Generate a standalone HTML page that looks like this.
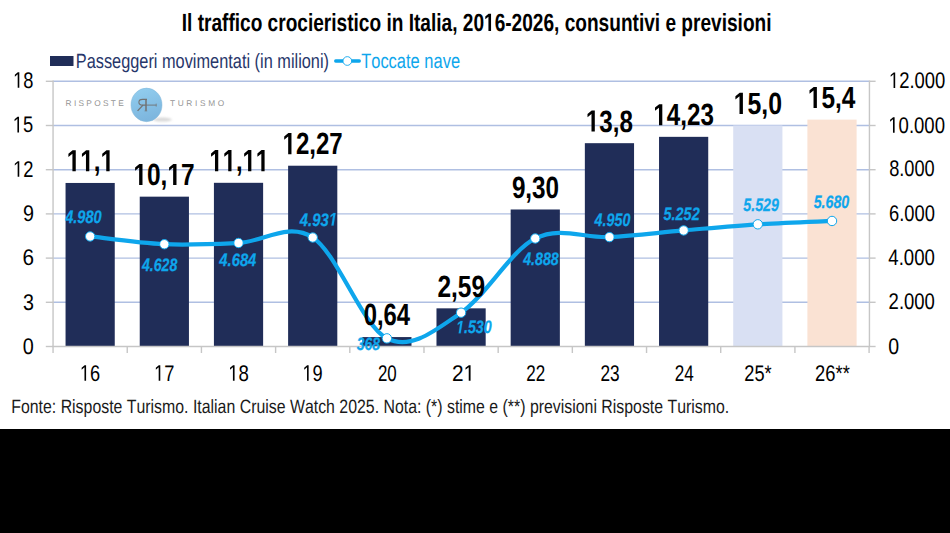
<!DOCTYPE html>
<html><head><meta charset="utf-8"><style>
html,body{margin:0;padding:0;background:#000;}
svg{display:block;font-family:"Liberation Sans",sans-serif;text-rendering:geometricPrecision;}
</style></head><body>
<svg width="950" height="533" viewBox="0 0 950 533">
<rect x="0" y="0" width="950" height="429" fill="#fff"/>
<rect x="0" y="429" width="950" height="104" fill="#000"/>
<line x1="53.06" y1="302.30" x2="869.09" y2="302.30" stroke="#afbfe2" stroke-width="1.4"/>
<line x1="53.06" y1="258.10" x2="869.09" y2="258.10" stroke="#afbfe2" stroke-width="1.4"/>
<line x1="53.06" y1="213.90" x2="869.09" y2="213.90" stroke="#afbfe2" stroke-width="1.4"/>
<line x1="53.06" y1="169.70" x2="869.09" y2="169.70" stroke="#afbfe2" stroke-width="1.4"/>
<line x1="53.06" y1="125.50" x2="869.09" y2="125.50" stroke="#afbfe2" stroke-width="1.4"/>
<line x1="53.06" y1="81.30" x2="869.09" y2="81.30" stroke="#afbfe2" stroke-width="1.4"/>
<line x1="45.8" y1="346.50" x2="53.06" y2="346.50" stroke="#c6c6c6" stroke-width="1.4"/>
<line x1="869.09" y1="346.50" x2="875.6" y2="346.50" stroke="#c6c6c6" stroke-width="1.4"/>
<line x1="45.8" y1="302.30" x2="53.06" y2="302.30" stroke="#c6c6c6" stroke-width="1.4"/>
<line x1="869.09" y1="302.30" x2="875.6" y2="302.30" stroke="#c6c6c6" stroke-width="1.4"/>
<line x1="45.8" y1="258.10" x2="53.06" y2="258.10" stroke="#c6c6c6" stroke-width="1.4"/>
<line x1="869.09" y1="258.10" x2="875.6" y2="258.10" stroke="#c6c6c6" stroke-width="1.4"/>
<line x1="45.8" y1="213.90" x2="53.06" y2="213.90" stroke="#c6c6c6" stroke-width="1.4"/>
<line x1="869.09" y1="213.90" x2="875.6" y2="213.90" stroke="#c6c6c6" stroke-width="1.4"/>
<line x1="45.8" y1="169.70" x2="53.06" y2="169.70" stroke="#c6c6c6" stroke-width="1.4"/>
<line x1="869.09" y1="169.70" x2="875.6" y2="169.70" stroke="#c6c6c6" stroke-width="1.4"/>
<line x1="45.8" y1="125.50" x2="53.06" y2="125.50" stroke="#c6c6c6" stroke-width="1.4"/>
<line x1="869.09" y1="125.50" x2="875.6" y2="125.50" stroke="#c6c6c6" stroke-width="1.4"/>
<line x1="45.8" y1="81.30" x2="53.06" y2="81.30" stroke="#c6c6c6" stroke-width="1.4"/>
<line x1="869.09" y1="81.30" x2="875.6" y2="81.30" stroke="#c6c6c6" stroke-width="1.4"/>
<rect x="65.55" y="182.96" width="49.20" height="163.54" fill="#202d58"/>
<rect x="139.74" y="196.66" width="49.20" height="149.84" fill="#202d58"/>
<rect x="213.92" y="182.81" width="49.20" height="163.69" fill="#202d58"/>
<rect x="288.11" y="165.72" width="49.20" height="180.78" fill="#202d58"/>
<rect x="362.29" y="337.07" width="49.20" height="9.43" fill="#202d58"/>
<rect x="436.48" y="308.34" width="49.20" height="38.16" fill="#202d58"/>
<rect x="510.66" y="209.48" width="49.20" height="137.02" fill="#202d58"/>
<rect x="584.85" y="143.18" width="49.20" height="203.32" fill="#202d58"/>
<rect x="659.03" y="136.84" width="49.20" height="209.66" fill="#202d58"/>
<rect x="733.21" y="125.50" width="49.20" height="221.00" fill="#d9e0f3"/>
<rect x="807.40" y="119.61" width="49.20" height="226.89" fill="#fae2d3"/>
<line x1="53.06" y1="80.60" x2="53.06" y2="346.50" stroke="#c6c6c6" stroke-width="1.4"/>
<line x1="869.44" y1="80.60" x2="869.44" y2="346.50" stroke="#c6c6c6" stroke-width="1.4"/>
<line x1="52.26" y1="346.50" x2="869.89" y2="346.50" stroke="#c6c6c6" stroke-width="1.4"/>
<line x1="53.06" y1="346.50" x2="53.06" y2="353" stroke="#c6c6c6" stroke-width="1.4"/>
<line x1="127.24" y1="346.50" x2="127.24" y2="353" stroke="#c6c6c6" stroke-width="1.4"/>
<line x1="201.43" y1="346.50" x2="201.43" y2="353" stroke="#c6c6c6" stroke-width="1.4"/>
<line x1="275.61" y1="346.50" x2="275.61" y2="353" stroke="#c6c6c6" stroke-width="1.4"/>
<line x1="349.80" y1="346.50" x2="349.80" y2="353" stroke="#c6c6c6" stroke-width="1.4"/>
<line x1="423.98" y1="346.50" x2="423.98" y2="353" stroke="#c6c6c6" stroke-width="1.4"/>
<line x1="498.17" y1="346.50" x2="498.17" y2="353" stroke="#c6c6c6" stroke-width="1.4"/>
<line x1="572.35" y1="346.50" x2="572.35" y2="353" stroke="#c6c6c6" stroke-width="1.4"/>
<line x1="646.54" y1="346.50" x2="646.54" y2="353" stroke="#c6c6c6" stroke-width="1.4"/>
<line x1="720.72" y1="346.50" x2="720.72" y2="353" stroke="#c6c6c6" stroke-width="1.4"/>
<line x1="794.91" y1="346.50" x2="794.91" y2="353" stroke="#c6c6c6" stroke-width="1.4"/>
<line x1="869.09" y1="346.50" x2="869.09" y2="353" stroke="#c6c6c6" stroke-width="1.4"/>
<path d="M90.15 236.44 C102.51 237.74 139.61 243.13 164.34 244.22 C189.06 245.31 213.79 244.10 238.52 242.98 C263.25 241.87 287.98 221.63 312.71 237.52 C337.43 253.42 362.16 325.84 386.89 338.37 C411.62 350.89 436.35 329.34 461.08 312.69 C485.80 296.04 510.53 251.07 535.26 238.48 C559.99 225.88 584.72 238.45 609.45 237.11 C634.17 235.76 658.90 232.56 683.63 230.43 C708.36 228.30 733.09 225.89 757.81 224.31 C782.54 222.73 819.64 221.53 832.00 220.97" fill="none" stroke="#0ea6ec" stroke-width="4.2" stroke-linecap="round" stroke-linejoin="round"/>
<circle cx="90.15" cy="236.44" r="4.7" fill="#fff" stroke="#0ea6ec" stroke-width="1.0"/>
<circle cx="164.34" cy="244.22" r="4.7" fill="#fff" stroke="#0ea6ec" stroke-width="1.0"/>
<circle cx="238.52" cy="242.98" r="4.7" fill="#fff" stroke="#0ea6ec" stroke-width="1.0"/>
<circle cx="312.71" cy="237.52" r="4.7" fill="#fff" stroke="#0ea6ec" stroke-width="1.0"/>
<circle cx="386.89" cy="338.37" r="4.7" fill="#fff" stroke="#0ea6ec" stroke-width="1.0"/>
<circle cx="461.08" cy="312.69" r="4.7" fill="#fff" stroke="#0ea6ec" stroke-width="1.0"/>
<circle cx="535.26" cy="238.48" r="4.7" fill="#fff" stroke="#0ea6ec" stroke-width="1.0"/>
<circle cx="609.45" cy="237.11" r="4.7" fill="#fff" stroke="#0ea6ec" stroke-width="1.0"/>
<circle cx="683.63" cy="230.43" r="4.7" fill="#fff" stroke="#0ea6ec" stroke-width="1.0"/>
<circle cx="757.81" cy="224.31" r="4.7" fill="#fff" stroke="#0ea6ec" stroke-width="1.0"/>
<circle cx="832.00" cy="220.97" r="4.7" fill="#fff" stroke="#0ea6ec" stroke-width="1.0"/>
<rect x="50" y="56" width="23.5" height="10" fill="#202d58"/>
<line x1="335.7" y1="61" x2="359.3" y2="61" stroke="#0ea6ec" stroke-width="3.3" stroke-linecap="round"/>
<circle cx="347.3" cy="61" r="4.35" fill="#fff" stroke="#0ea6ec" stroke-width="0.9"/>
<defs><filter id="bl" x="-50%" y="-200%" width="200%" height="500%"><feGaussianBlur stdDeviation="0.9"/></filter><linearGradient id="lg" x1="0" y1="0" x2="0.3" y2="1"><stop offset="0" stop-color="#93cff0"/><stop offset="1" stop-color="#7db6de"/></linearGradient></defs>
<ellipse cx="162.5" cy="119.6" rx="9.5" ry="2.0" fill="#d9d9d9" filter="url(#bl)"/>
<ellipse cx="146.5" cy="104.9" rx="15.5" ry="16.8" fill="url(#lg)" stroke="#84b6d8" stroke-width="0.5"/>
<g fill="none" stroke="#727272"><path d="M146 99.4 V110.8" stroke-width="1.5"/><path d="M147 99.4 H142.6 C140.0 99.4 138.9 100.7 138.9 102.2 C138.9 103.8 140.2 105.1 142.6 105.1 H146" stroke-width="1.1"/><path d="M143.0 105.1 L137.6 110.9" stroke-width="1.3"/><path d="M144.6 110.9 H147.2" stroke-width="0.7"/><path d="M146 105.1 H156.4" stroke-width="0.9"/><path d="M156.2 103.6 V106.6" stroke-width="0.7"/></g>
<text transform="translate(181.72 30.90) scale(0.7678 1)" font-size="24.86" style="font-weight:bold;font-kerning:none;font-variant-ligatures:none" fill="#000">Il traffico crocieristico in Italia, 20 6-2026, consuntivi e previsioni</text><path transform="translate(483.978 30.90) scale(0.00932 -0.01214)" d="M478 0 478 1170 140 959 140 1180 493 1409 759 1409 759 0Z" fill="#000"/>
<text transform="translate(75.75 67.75) scale(0.7943 1)" font-size="20.57" style="font-weight:normal;font-kerning:none;font-variant-ligatures:none" fill="#27366a">Passeggeri movimentati (in milioni)</text>
<text transform="translate(361.16 67.75) scale(0.7897 1)" font-size="20.86" style="font-weight:normal;font-kerning:none;font-variant-ligatures:none" fill="#0ea6ec">Toccate nave</text>
<text transform="translate(11.22 412.70) scale(0.8272 1)" font-size="19.19" style="font-weight:normal;font-kerning:none;font-variant-ligatures:none" fill="#1a1a1a">Fonte: Risposte Turismo. Italian Cruise Watch 2025. Nota: (*) stime e (**) previsioni Risposte Turismo.</text>
<text transform="translate(66.74 171.36) scale(0.7929 1)" font-size="30.70" style="font-weight:bold;font-kerning:none;font-variant-ligatures:none" fill="#000">  , </text><path transform="translate(66.736 171.36) scale(0.01189 -0.01499)" d="M478 0 478 1170 140 959 140 1180 493 1409 759 1409 759 0Z" fill="#000"/><path transform="translate(80.274 171.36) scale(0.01189 -0.01499)" d="M478 0 478 1170 140 959 140 1180 493 1409 759 1409 759 0Z" fill="#000"/><path transform="translate(100.575 171.36) scale(0.01189 -0.01499)" d="M478 0 478 1170 140 959 140 1180 493 1409 759 1409 759 0Z" fill="#000"/>
<text transform="translate(133.43 185.07) scale(0.7966 1)" font-size="30.70" style="font-weight:bold;font-kerning:none;font-variant-ligatures:none" fill="#000"> 0, 7</text><path transform="translate(133.432 185.07) scale(0.01194 -0.01499)" d="M478 0 478 1170 140 959 140 1180 493 1409 759 1409 759 0Z" fill="#000"/><path transform="translate(167.431 185.07) scale(0.01194 -0.01499)" d="M478 0 478 1170 140 959 140 1180 493 1409 759 1409 759 0Z" fill="#000"/>
<text transform="translate(209.43 171.22) scale(0.7757 1)" font-size="30.70" style="font-weight:bold;font-kerning:none;font-variant-ligatures:none" fill="#000">  ,  </text><path transform="translate(209.427 171.22) scale(0.01163 -0.01499)" d="M478 0 478 1170 140 959 140 1180 493 1409 759 1409 759 0Z" fill="#000"/><path transform="translate(222.671 171.22) scale(0.01163 -0.01499)" d="M478 0 478 1170 140 959 140 1180 493 1409 759 1409 759 0Z" fill="#000"/><path transform="translate(242.530 171.22) scale(0.01163 -0.01499)" d="M478 0 478 1170 140 959 140 1180 493 1409 759 1409 759 0Z" fill="#000"/><path transform="translate(255.774 171.22) scale(0.01163 -0.01499)" d="M478 0 478 1170 140 959 140 1180 493 1409 759 1409 759 0Z" fill="#000"/>
<text transform="translate(282.56 154.13) scale(0.7829 1)" font-size="30.70" style="font-weight:bold;font-kerning:none;font-variant-ligatures:none" fill="#000"> 2,27</text><path transform="translate(282.561 154.13) scale(0.01174 -0.01499)" d="M478 0 478 1170 140 959 140 1180 493 1409 759 1409 759 0Z" fill="#000"/>
<text transform="translate(363.68 325.47) scale(0.7774 1)" font-size="30.70" style="font-weight:bold;font-kerning:none;font-variant-ligatures:none" fill="#000">0,64</text>
<text transform="translate(437.40 296.74) scale(0.7972 1)" font-size="30.70" style="font-weight:bold;font-kerning:none;font-variant-ligatures:none" fill="#000">2,59</text>
<text transform="translate(511.88 197.88) scale(0.7906 1)" font-size="30.70" style="font-weight:bold;font-kerning:none;font-variant-ligatures:none" fill="#000">9,30</text>
<text transform="translate(585.85 131.58) scale(0.7869 1)" font-size="30.70" style="font-weight:bold;font-kerning:none;font-variant-ligatures:none" fill="#000"> 3,8</text><path transform="translate(585.852 131.58) scale(0.01180 -0.01499)" d="M478 0 478 1170 140 959 140 1180 493 1409 759 1409 759 0Z" fill="#000"/>
<text transform="translate(653.35 125.25) scale(0.7878 1)" font-size="30.70" style="font-weight:bold;font-kerning:none;font-variant-ligatures:none" fill="#000"> 4,23</text><path transform="translate(653.351 125.25) scale(0.01181 -0.01499)" d="M478 0 478 1170 140 959 140 1180 493 1409 759 1409 759 0Z" fill="#000"/>
<text transform="translate(733.70 113.91) scale(0.8086 1)" font-size="30.70" style="font-weight:bold;font-kerning:none;font-variant-ligatures:none" fill="#000"> 5,0</text><path transform="translate(733.705 113.91) scale(0.01212 -0.01499)" d="M478 0 478 1170 140 959 140 1180 493 1409 759 1409 759 0Z" fill="#000"/>
<text transform="translate(807.83 108.01) scale(0.7951 1)" font-size="30.70" style="font-weight:bold;font-kerning:none;font-variant-ligatures:none" fill="#000"> 5,4</text><path transform="translate(807.833 108.01) scale(0.01192 -0.01499)" d="M478 0 478 1170 140 959 140 1180 493 1409 759 1409 759 0Z" fill="#000"/>
<text transform="translate(65.15 223.40) scale(0.8101 1)" font-size="18.00" style="font-weight:bold;font-style:italic;font-kerning:none;font-variant-ligatures:none" fill="#0ea6ec" stroke="#0ea6ec" stroke-width="0.25">4.980</text>
<text transform="translate(141.89 270.80) scale(0.7850 1)" font-size="18.00" style="font-weight:bold;font-style:italic;font-kerning:none;font-variant-ligatures:none" fill="#0ea6ec" stroke="#0ea6ec" stroke-width="0.25">4.628</text>
<text transform="translate(219.33 265.60) scale(0.8216 1)" font-size="18.00" style="font-weight:bold;font-style:italic;font-kerning:none;font-variant-ligatures:none" fill="#0ea6ec" stroke="#0ea6ec" stroke-width="0.25">4.684</text>
<text transform="translate(299.82 225.50) scale(0.8258 1)" font-size="18.00" style="font-weight:bold;font-style:italic;font-kerning:none;font-variant-ligatures:none" fill="#0ea6ec" stroke="#0ea6ec" stroke-width="0.25">4.93 </text><path transform="translate(328.755 225.50) scale(0.00726 -0.00879)" d="M380 0 604 1152 223 938 270 1180 666 1409 936 1409 661 0Z" fill="#0ea6ec" stroke="#0ea6ec" stroke-width="28.4"/>
<text transform="translate(356.83 349.50) scale(0.7759 1)" font-size="18.00" style="font-weight:bold;font-style:italic;font-kerning:none;font-variant-ligatures:none" fill="#0ea6ec" stroke="#0ea6ec" stroke-width="0.25">368</text>
<text transform="translate(456.05 333.30) scale(0.7917 1)" font-size="18.00" style="font-weight:bold;font-style:italic;font-kerning:none;font-variant-ligatures:none" fill="#0ea6ec" stroke="#0ea6ec" stroke-width="0.25"> .530</text><path transform="translate(456.054 333.30) scale(0.00696 -0.00879)" d="M380 0 604 1152 223 938 270 1180 666 1409 936 1409 661 0Z" fill="#0ea6ec" stroke="#0ea6ec" stroke-width="28.4"/>
<text transform="translate(523.16 265.00) scale(0.7910 1)" font-size="18.00" style="font-weight:bold;font-style:italic;font-kerning:none;font-variant-ligatures:none" fill="#0ea6ec" stroke="#0ea6ec" stroke-width="0.25">4.888</text>
<text transform="translate(594.56 226.00) scale(0.7940 1)" font-size="18.00" style="font-weight:bold;font-style:italic;font-kerning:none;font-variant-ligatures:none" fill="#0ea6ec" stroke="#0ea6ec" stroke-width="0.25">4.950</text>
<text transform="translate(663.56 219.90) scale(0.8013 1)" font-size="18.00" style="font-weight:bold;font-style:italic;font-kerning:none;font-variant-ligatures:none" fill="#0ea6ec" stroke="#0ea6ec" stroke-width="0.25">5.252</text>
<text transform="translate(743.37 210.60) scale(0.7876 1)" font-size="18.00" style="font-weight:bold;font-style:italic;font-kerning:none;font-variant-ligatures:none" fill="#0ea6ec" stroke="#0ea6ec" stroke-width="0.25">5.529</text>
<text transform="translate(813.66 207.70) scale(0.7907 1)" font-size="18.00" style="font-weight:bold;font-style:italic;font-kerning:none;font-variant-ligatures:none" fill="#0ea6ec" stroke="#0ea6ec" stroke-width="0.25">5.680</text>
<text transform="translate(13.10 87.86) scale(0.8088 1)" font-size="22.60" style="font-weight:normal;font-kerning:none;font-variant-ligatures:none" fill="#000"> 8</text><path transform="translate(13.096 87.86) scale(0.00893 -0.01104)" d="M515 0 515 1237 197 1010 197 1180 530 1409 696 1409 696 0Z" fill="#000"/>
<text transform="translate(12.80 132.40) scale(0.8104 1)" font-size="22.60" style="font-weight:normal;font-kerning:none;font-variant-ligatures:none" fill="#000"> 5</text><path transform="translate(12.802 132.40) scale(0.00894 -0.01104)" d="M515 0 515 1237 197 1010 197 1180 530 1409 696 1409 696 0Z" fill="#000"/>
<text transform="translate(13.04 176.70) scale(0.8108 1)" font-size="22.60" style="font-weight:normal;font-kerning:none;font-variant-ligatures:none" fill="#000"> 2</text><path transform="translate(13.042 176.70) scale(0.00895 -0.01104)" d="M515 0 515 1237 197 1010 197 1180 530 1409 696 1409 696 0Z" fill="#000"/>
<text transform="translate(22.98 221.20) scale(0.8737 1)" font-size="22.60" style="font-weight:normal;font-kerning:none;font-variant-ligatures:none" fill="#000">9</text>
<text transform="translate(22.43 265.20) scale(0.9162 1)" font-size="22.60" style="font-weight:normal;font-kerning:none;font-variant-ligatures:none" fill="#000">6</text>
<text transform="translate(23.04 309.70) scale(0.8709 1)" font-size="22.60" style="font-weight:normal;font-kerning:none;font-variant-ligatures:none" fill="#000">3</text>
<text transform="translate(22.67 353.80) scale(0.8761 1)" font-size="22.60" style="font-weight:normal;font-kerning:none;font-variant-ligatures:none" fill="#000">0</text>
<text transform="translate(888.93 88.00) scale(0.8151 1)" font-size="22.60" style="font-weight:normal;font-kerning:none;font-variant-ligatures:none" fill="#000"> 2.000</text><path transform="translate(888.934 88.00) scale(0.00899 -0.01104)" d="M515 0 515 1237 197 1010 197 1180 530 1409 696 1409 696 0Z" fill="#000"/>
<text transform="translate(888.32 132.80) scale(0.8199 1)" font-size="22.60" style="font-weight:normal;font-kerning:none;font-variant-ligatures:none" fill="#000"> 0.000</text><path transform="translate(888.323 132.80) scale(0.00905 -0.01104)" d="M515 0 515 1237 197 1010 197 1180 530 1409 696 1409 696 0Z" fill="#000"/>
<text transform="translate(889.21 176.20) scale(0.8045 1)" font-size="22.60" style="font-weight:normal;font-kerning:none;font-variant-ligatures:none" fill="#000">8.000</text>
<text transform="translate(889.05 220.80) scale(0.8107 1)" font-size="22.60" style="font-weight:normal;font-kerning:none;font-variant-ligatures:none" fill="#000">6.000</text>
<text transform="translate(888.34 265.20) scale(0.8237 1)" font-size="22.60" style="font-weight:normal;font-kerning:none;font-variant-ligatures:none" fill="#000">4.000</text>
<text transform="translate(888.61 309.30) scale(0.8184 1)" font-size="22.60" style="font-weight:normal;font-kerning:none;font-variant-ligatures:none" fill="#000">2.000</text>
<text transform="translate(888.24 353.80) scale(0.8646 1)" font-size="22.60" style="font-weight:normal;font-kerning:none;font-variant-ligatures:none" fill="#000">0</text>
<text transform="translate(79.91 380.86) scale(0.8048 1)" font-size="22.60" style="font-weight:normal;font-kerning:none;font-variant-ligatures:none" fill="#000"> 6</text><path transform="translate(79.906 380.86) scale(0.00888 -0.01104)" d="M515 0 515 1237 197 1010 197 1180 530 1409 696 1409 696 0Z" fill="#000"/>
<text transform="translate(154.08 380.86) scale(0.8091 1)" font-size="22.60" style="font-weight:normal;font-kerning:none;font-variant-ligatures:none" fill="#000"> 7</text><path transform="translate(154.081 380.86) scale(0.00893 -0.01104)" d="M515 0 515 1237 197 1010 197 1180 530 1409 696 1409 696 0Z" fill="#000"/>
<text transform="translate(228.23 380.86) scale(0.8252 1)" font-size="22.60" style="font-weight:normal;font-kerning:none;font-variant-ligatures:none" fill="#000"> 8</text><path transform="translate(228.227 380.86) scale(0.00911 -0.01104)" d="M515 0 515 1237 197 1010 197 1180 530 1409 696 1409 696 0Z" fill="#000"/>
<text transform="translate(302.46 380.86) scale(0.8043 1)" font-size="22.60" style="font-weight:normal;font-kerning:none;font-variant-ligatures:none" fill="#000"> 9</text><path transform="translate(302.460 380.86) scale(0.00888 -0.01104)" d="M515 0 515 1237 197 1010 197 1180 530 1409 696 1409 696 0Z" fill="#000"/>
<text transform="translate(377.96 380.86) scale(0.7471 1)" font-size="22.60" style="font-weight:normal;font-kerning:none;font-variant-ligatures:none" fill="#000">20</text>
<text transform="translate(451.91 380.86) scale(0.9219 1)" font-size="22.60" style="font-weight:normal;font-kerning:none;font-variant-ligatures:none" fill="#000">2 </text><path transform="translate(463.494 380.86) scale(0.01017 -0.01104)" d="M515 0 515 1237 197 1010 197 1180 530 1409 696 1409 696 0Z" fill="#000"/>
<text transform="translate(526.30 380.86) scale(0.7536 1)" font-size="22.60" style="font-weight:normal;font-kerning:none;font-variant-ligatures:none" fill="#000">22</text>
<text transform="translate(600.47 380.86) scale(0.7617 1)" font-size="22.60" style="font-weight:normal;font-kerning:none;font-variant-ligatures:none" fill="#000">23</text>
<text transform="translate(674.64 380.86) scale(0.7573 1)" font-size="22.60" style="font-weight:normal;font-kerning:none;font-variant-ligatures:none" fill="#000">24</text>
<text transform="translate(744.36 380.86) scale(0.8057 1)" font-size="22.60" style="font-weight:normal;font-kerning:none;font-variant-ligatures:none" fill="#000">25*</text>
<text transform="translate(815.12 380.86) scale(0.8116 1)" font-size="22.60" style="font-weight:normal;font-kerning:none;font-variant-ligatures:none" fill="#000">26**</text>
<text x="65.60" y="105.80" font-size="8.32" fill="#959595" textLength="58.10" lengthAdjust="spacing">RISPOSTE</text>
<text x="169.90" y="105.80" font-size="8.32" fill="#959595" textLength="54.40" lengthAdjust="spacing">TURISMO</text>
</svg></body></html>
